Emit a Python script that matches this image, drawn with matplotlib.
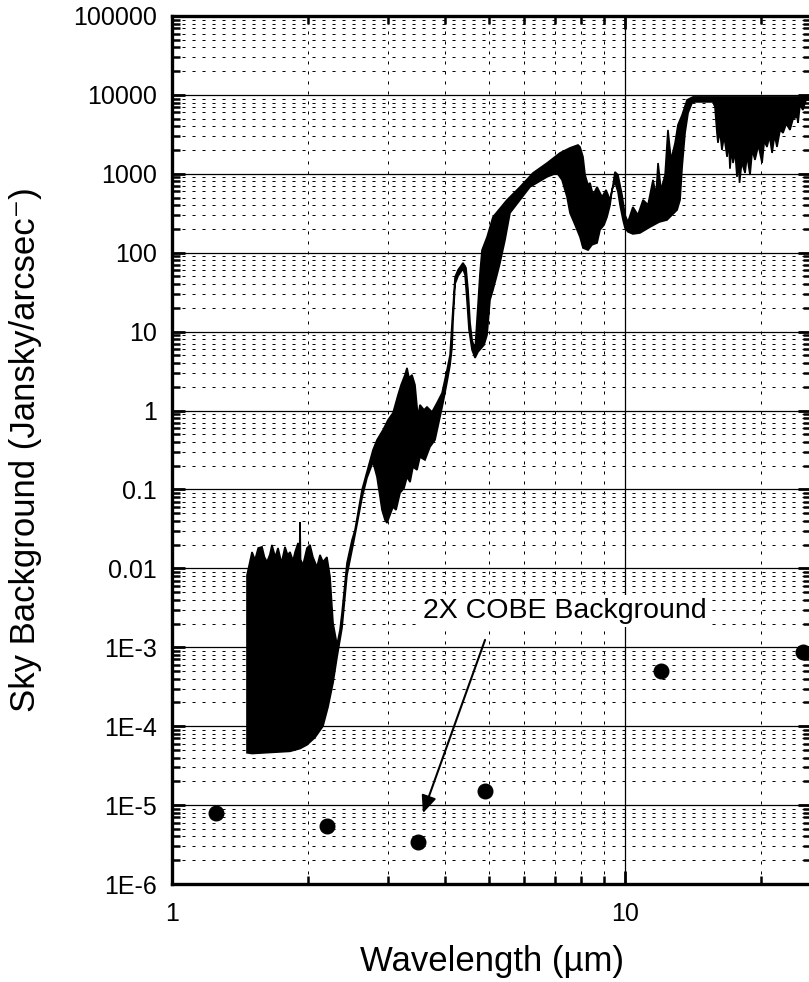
import numpy as np
import matplotlib
matplotlib.use("Agg")
import matplotlib.pyplot as plt
from matplotlib.ticker import FixedLocator, LogLocator, NullFormatter

plt.rcParams['font.family'] = ['Liberation Sans', 'DejaVu Sans']
plt.rcParams['lines.scale_dashes'] = False

# # # # # # # # # # # # # # # # # # # # # # # # # # # #
# Sky spectrum, read off the picture as upper / lower edge of the black band
top_wl = [1.464, 1.486, 1.502, 1.525, 1.55, 1.580, 1.60, 1.621, 1.645, 1.662,
          1.69, 1.714, 1.745, 1.776, 1.80, 1.822, 1.85, 1.869, 1.898, 1.912,
          1.917, 1.922, 1.946, 1.986, 2.017, 2.047, 2.089, 2.122, 2.154, 2.198,
          2.233, 2.267, 2.314, 2.349, 2.373, 2.434, 2.497, 2.535, 2.627, 2.778,
          2.835, 2.923, 2.998, 3.075, 3.155, 3.204, 3.268, 3.302, 3.336, 3.387,
          3.439, 3.491, 3.527, 3.600, 3.655, 3.750, 3.846, 3.946, 4.047, 4.110,
          4.152, 4.216, 4.281, 4.389, 4.457, 4.503, 4.550, 4.596, 4.667, 4.737,
          4.786, 4.835, 4.960, 5.112, 5.490, 5.865, 6.265, 6.729, 7.187, 7.561,
          7.875, 7.956, 8.078, 8.163, 8.287, 8.372, 8.501, 8.676, 8.898, 9.08,
          9.27, 9.41, 9.504, 9.65, 9.85, 10.0, 10.15, 10.41, 10.68, 10.96,
          11.24, 11.53, 11.71, 11.83, 12.01, 12.26, 12.44, 12.64, 12.90, 13.09,
          13.37, 13.71, 14.13, 15.64, 16.21, 24.34, 25.9]
top_sky = [0.0082, 0.0121, 0.0161, 0.0128, 0.0181, 0.0187, 0.0139, 0.0121, 0.0150, 0.0198,
           0.0139, 0.0181, 0.0117, 0.0187, 0.0148, 0.0161, 0.0125, 0.0160, 0.0210, 0.0130,
           0.0387, 0.0130, 0.0110, 0.0181, 0.0198, 0.0139, 0.0104, 0.0148, 0.0121, 0.0139,
           0.0078, 0.00203, 0.00107, 0.00166, 0.00272, 0.0117, 0.0229, 0.0307, 0.0986, 0.317,
           0.424, 0.568, 0.760, 0.933, 1.58, 2.11, 2.83, 3.47, 2.59, 2.83,
           2.11, 0.830, 1.18, 1.02, 1.11, 0.960, 1.25, 1.67, 3.27, 5.07,
           12.9, 49.3, 60.6, 74.3, 64.2, 33.8, 12.9, 7.85, 5.86, 21.8,
           55.5, 108, 158, 284, 467, 682, 1026, 1370, 1840, 2130,
           2320, 2190, 1640, 968, 723, 767, 540, 682, 510, 625,
           467, 723, 1057, 968, 540, 301, 245, 380, 301, 467,
           404, 837, 540, 1370, 625, 968, 3600, 1500, 2470, 4170,
           5580, 8650, 9430, 9430, 9430, 9430, 9430]

bot_wl = [1.464, 1.502, 1.822, 1.917, 1.986, 2.069, 2.154, 2.210, 2.267, 2.314,
          2.373, 2.434, 2.497, 2.535, 2.627, 2.694, 2.778, 2.835, 2.908, 2.953,
          2.983, 3.028, 3.075, 3.123, 3.187, 3.253, 3.302, 3.354, 3.404, 3.474,
          3.527, 3.618, 3.711, 3.807, 3.905, 3.965, 4.047, 4.110, 4.152, 4.173,
          4.216, 4.281, 4.389, 4.436, 4.479, 4.526, 4.596, 4.667, 4.737, 4.884,
          4.960, 5.035, 5.112, 5.217, 5.298, 5.434, 5.574, 5.865, 6.170, 6.729,
          7.078, 7.26, 7.447, 7.561, 7.76, 7.956, 8.078, 8.287, 8.458, 8.676,
          8.808, 8.99, 9.127, 9.27, 9.361, 9.504, 9.65, 9.750, 9.90, 10.0,
          10.15, 10.41, 10.79, 11.36, 11.9, 12.38, 12.70, 13.03, 13.23, 13.37,
          13.57, 13.78, 14.06, 14.27, 15.64, 15.80, 15.96, 16.04, 16.2, 16.37,
          16.55, 16.80, 16.95, 17.05, 17.2, 17.32, 17.5, 17.67, 17.8, 17.9,
          18.1, 18.41, 18.6, 18.88, 19.1, 19.36, 19.7, 20.07, 20.3, 20.58,
          20.85, 21.12, 21.4, 21.65, 22.0, 22.33, 22.7, 23.13, 23.5, 23.98,
          24.1, 24.34, 24.7, 25.1, 25.9]
bot_sky = [4.6e-5, 4.5e-5, 4.8e-5, 5.2e-5, 5.8e-5, 7.2e-5, 1.0e-4, 1.75e-4, 3.53e-4, 7.53e-4,
           0.00176, 0.00824, 0.0171, 0.0265, 0.078, 0.140, 0.223, 0.144, 0.055, 0.041,
           0.0376, 0.0475, 0.060, 0.055, 0.0904, 0.104, 0.144, 0.124, 0.193, 0.177,
           0.258, 0.236, 0.346, 0.424, 0.830, 1.25, 2.30, 3.79, 6.40, 14.1,
           40.3, 50.8, 62.4, 52.4, 25.2, 10.5, 5.86, 4.65, 5.53, 6.78,
           9.08, 25.2, 33.8, 52.4, 74.3, 145, 319, 467, 682, 914,
           1026, 837, 510, 319, 225, 158, 115, 108, 126, 133,
           195, 225, 284, 404, 625, 789, 590, 404, 260, 206,
           184, 173, 178, 212, 245, 260, 301, 348, 467, 1220,
           3300, 5910, 7920, 8150, 8150, 7040, 3300, 2470, 3500, 2010,
           3000, 1640, 2600, 1160, 2100, 1370, 1900, 914, 1500, 767,
           1400, 1026, 1700, 967, 2000, 1500, 2300, 1370, 2600, 2190,
           3000, 1840, 3100, 2190, 3600, 3300, 4300, 3600, 5000, 5260,
           4420, 7470, 6450, 8650, 8650]

# 2X COBE background points
cobe_wl = [1.25, 2.2, 3.5, 4.9, 12.0, 24.7]
cobe_sky = [7.9e-6, 5.4e-6, 3.4e-6, 1.5e-5, 5.0e-4, 8.7e-4]

y_ticks = [1e-6, 1e-5, 1e-4, 1e-3, 1e-2, 1e-1, 1, 10, 100, 1000, 10000, 100000]
y_labels = ['1E-6', '1E-5', '1E-4', '1E-3', '0.01', '0.1', '1', '10', '100',
            '1000', '10000', '100000']
x_ticks = [1, 10]
x_labels = ['1', '10']

fig = plt.figure(figsize=(8.09, 9.82), dpi=100)
ax = fig.add_axes([172 / 809, 98 / 982, 639 / 809, 868 / 982])
ax.set_xscale('log')
ax.set_yscale('log')
ax.set_xlim(1, 25.74)
ax.set_ylim(1e-6, 1e5)

# spectrum as one closed outline: top edge forward, bottom edge back
poly_x = np.concatenate([top_wl, bot_wl[::-1]])
poly_y = np.concatenate([top_sky, bot_sky[::-1]])
ax.fill(poly_x, poly_y, facecolor='black', edgecolor='black', lw=1.2, zorder=3)

ax.plot(cobe_wl, cobe_sky, 'o', color='black', ms=10.5, zorder=4)

# annotation
ax.text(7.37, 2.35e-3, '2X COBE Background', fontsize=20.5, ha='center', va='baseline',
        bbox=dict(facecolor='white', edgecolor='none', pad=2), zorder=5)
ax.annotate('', xy=(3.58, 7.9e-6), xytext=(4.91, 1.24e-3),
            arrowprops=dict(arrowstyle='-|>,head_length=0.7,head_width=0.3',
                            color='black', lw=1.5, mutation_scale=15,
                            shrinkA=0, shrinkB=0), zorder=5)

# ticks
ax.yaxis.set_major_locator(FixedLocator(y_ticks))
ax.set_yticklabels(y_labels)
ax.xaxis.set_major_locator(FixedLocator(x_ticks))
ax.set_xticklabels(x_labels)
ax.xaxis.set_minor_locator(LogLocator(base=10, subs=np.arange(2, 10), numticks=30))
ax.yaxis.set_minor_locator(LogLocator(base=10, subs=np.arange(2, 10), numticks=30))
ax.xaxis.set_minor_formatter(NullFormatter())
ax.yaxis.set_minor_formatter(NullFormatter())
ax.tick_params(which='both', direction='in', top=True, right=True, labelsize=18)
ax.tick_params(which='major', length=9.5, width=2.0, pad=11)
ax.tick_params(which='minor', length=5.5, width=1.8)
ax.tick_params(axis='x', which='major', pad=13)

ax.grid(which='major', color='black', lw=0.9, linestyle='-')
ax.grid(which='minor', color='black', lw=0.7, linestyle=(0, (2.2, 5)))
ax.set_axisbelow(True)

for s in ax.spines.values():
    s.set_linewidth(2.4)

ax.set_xlabel('Wavelength (\u00b5m)', fontsize=25, labelpad=14)
ax.set_ylabel('Sky Background (Jansky/arcsec\u207b)', fontsize=25)
ax.yaxis.set_label_coords(-0.203, 0.5)

fig.savefig('out.png', dpi=100)
